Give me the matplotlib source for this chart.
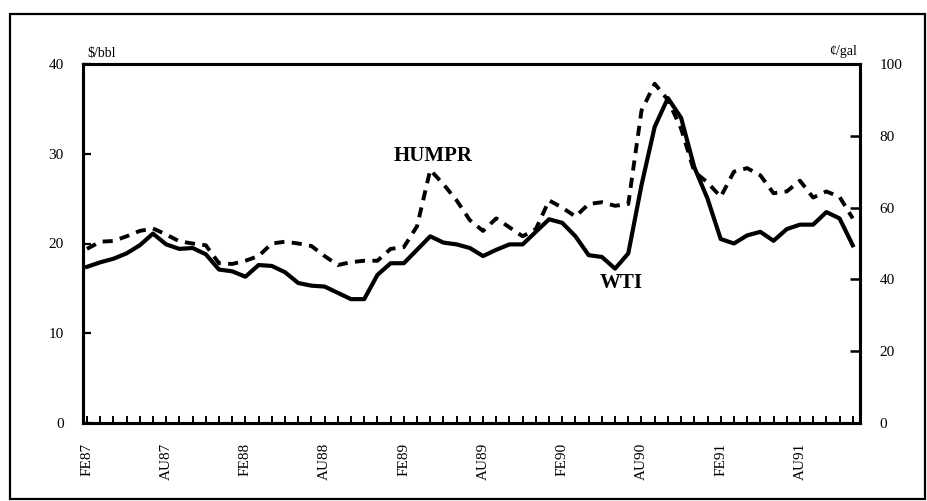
import numpy as np
import matplotlib
matplotlib.use("Agg")
import matplotlib.pyplot as plt
from matplotlib.patches import Rectangle

plt.rcParams["font.family"] = ["Liberation Serif", "DejaVu Serif"]

# Monthly series, Feb 1987 - Dec 1991
tick_labels = ["FE87", "AU87", "FE88", "AU88", "FE89",
               "AU89", "FE90", "AU90", "FE91", "AU91"]

# WTI crude, $/bbl (left axis)
wti = [17.4, 17.9, 18.3, 18.9, 19.8, 21.1, 19.9, 19.4, 19.5, 18.8,
       17.1, 16.9, 16.3, 17.6, 17.5, 16.8, 15.6, 15.3, 15.2, 14.5,
       13.8, 13.8, 16.5, 17.8, 17.8, 19.3, 20.8, 20.1, 19.9, 19.5,
       18.6, 19.3, 19.9, 19.9, 21.3, 22.7, 22.3, 20.8, 18.7, 18.5,
       17.2, 18.9, 26.5, 33.0, 36.2, 34.0, 28.5, 25.0, 20.5, 20.0,
       20.9, 21.3, 20.3, 21.6, 22.1, 22.1, 23.5, 22.8, 19.8]

# HUMPR, cents/gal (right axis)
humpr = [48.5, 50.5, 50.7, 52.0, 53.5, 54.2, 52.5, 50.6, 50.0, 49.5,
         44.5, 44.3, 45.2, 46.5, 50.0, 50.5, 50.0, 49.3, 46.5, 44.0,
         44.8, 45.2, 45.2, 48.5, 49.0, 54.8, 70.5, 66.5, 62.0, 56.5,
         53.5, 57.0, 54.5, 52.0, 54.0, 62.0, 60.0, 57.5, 61.0, 61.5,
         60.5, 61.0, 87.0, 94.5, 90.0, 82.0, 70.0, 67.0, 63.0, 70.0,
         71.0, 69.0, 64.0, 64.5, 67.5, 62.8, 64.5, 63.0, 57.0]

left_ticks = [0, 10, 20, 30, 40]
right_ticks = [0, 20, 40, 60, 80, 100]

W, H = 927, 501
fig = plt.figure(figsize=(W / 100, H / 100), dpi=100)

# outer frame around the whole exhibit
fig.patches.append(Rectangle((10 / W, 2 / H), 915 / W, (H - 14 - 2) / H,
                             transform=fig.transFigure, fill=False,
                             edgecolor="black", linewidth=1.6))

ax = fig.add_axes([83 / W, 1 - 423 / H, (860 - 83) / W, (423 - 64) / H])
x = np.arange(len(wti))

ax.plot(x, wti, color="black", lw=3.0, solid_joinstyle="round")
ax2 = ax.twinx()
ax2.plot(x, humpr, color="black", lw=2.8, linestyle=(0, (2.6, 1.9)),
         dash_capstyle="butt")

ax.set_xlim(-0.3, 58.55)
ax.set_ylim(0, 40)
ax2.set_ylim(0, 100)

# monthly ticks, labels every six months
ax.set_xticks(x)
labels = [""] * len(x)
for k, lab in enumerate(tick_labels):
    labels[k * 6] = lab
ax.set_xticklabels(labels, rotation=90, fontsize=11, va="top", ha="center")
ax.tick_params(axis="x", direction="in", length=5, width=1.4, pad=14)

ax.set_yticks(left_ticks)
ax.set_yticklabels([str(v) for v in left_ticks], fontsize=11)
ax.tick_params(axis="y", direction="in", length=6, width=1.6, pad=14)

ax2.set_yticks(right_ticks)
ax2.set_yticklabels([str(v) for v in right_ticks], fontsize=11)
ax2.tick_params(axis="y", direction="in", length=7, width=1.8, pad=14)

for a in (ax, ax2):
    for s in a.spines.values():
        s.set_linewidth(2.2)

ax.text(0.006, 1.012, "$/bbl", transform=ax.transAxes, fontsize=10,
        ha="left", va="bottom")
ax.text(0.996, 1.018, "¢/gal", transform=ax.transAxes, fontsize=10,
        ha="right", va="bottom")

ax.text(26.2, 29.8, "HUMPR", fontsize=15, fontweight="bold",
        ha="center", va="center")
ax.text(40.5, 15.6, "WTI", fontsize=15, fontweight="bold",
        ha="center", va="center")

fig.savefig("out.png", dpi=100)
